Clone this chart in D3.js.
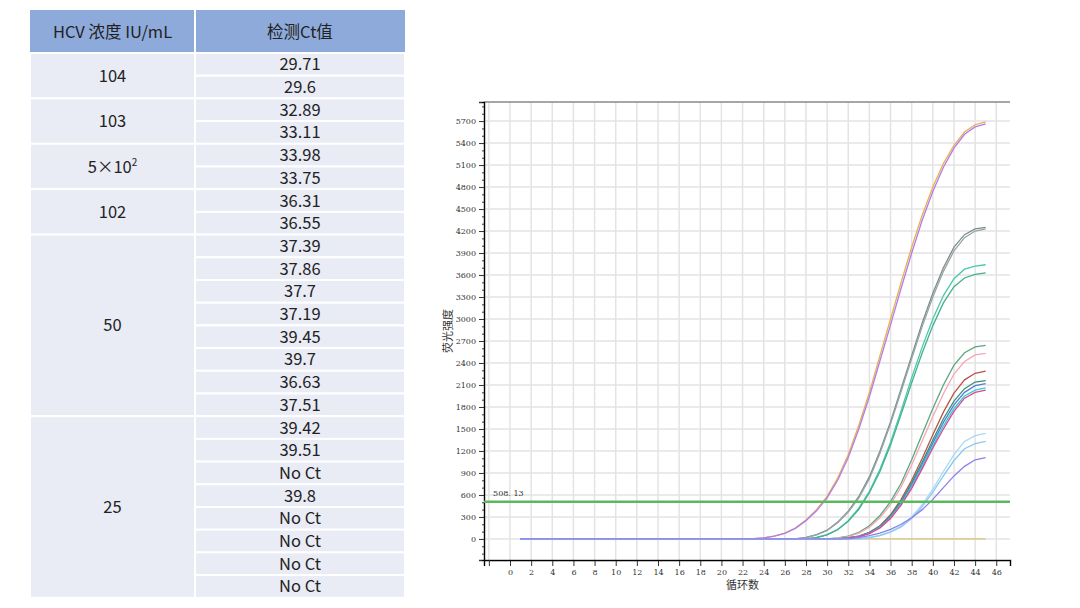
<!DOCTYPE html>
<html><head><meta charset="utf-8">
<script src="https://cdn.jsdelivr.net/npm/d3@7"></script>
<style>body{margin:0;background:#fff}svg{display:block}</style>
</head><body><svg id="c" width="1080" height="608"></svg>
<script>
// ---- table data ----
const tableHeader = ["HCV 浓度 IU/mL", "检测Ct值"];
const concGroups = [
  {label:"104", n:2}, {label:"103", n:2}, {label:"5×10", sup:"2", n:2},
  {label:"102", n:2}, {label:"50", n:8}, {label:"25", n:8}
];
const ctValues = ["29.71","29.6","32.89","33.11","33.98","33.75","36.31","36.55",
  "37.39","37.86","37.7","37.19","39.45","39.7","36.63","37.51",
  "39.42","39.51","No Ct","39.8","No Ct","No Ct","No Ct","No Ct"];

// ---- chart data: fluorescence from cycle 23 to 45 (earlier cycles at baseline 0) ----
const startCycle = 1;
const riseCycle = 23;
const curves = [
  {color:"#e8b04a", v:[5,15,40,80,150,260,400,580,830,1150,1550,2000,2500,3000,3500,3980,4420,4800,5120,5370,5550,5650,5690]},
  {color:"#b27cf0", v:[5,14,38,76,145,250,385,560,800,1110,1500,1940,2430,2920,3420,3900,4350,4740,5070,5330,5520,5620,5660]},
  {color:"#7f8c8d", v:[0,0,0,0,0,20,60,120,230,380,580,850,1200,1600,2050,2500,2950,3350,3700,3980,4150,4230,4250]},
  {color:"#95a5a6", v:[0,0,0,0,0,18,55,115,220,365,560,820,1170,1570,2010,2460,2900,3300,3650,3930,4110,4200,4230]},
  {color:"#48c9b0", v:[0,0,0,0,0,0,20,60,130,250,420,650,950,1320,1750,2200,2620,3000,3320,3550,3680,3720,3740]},
  {color:"#45b08c", v:[0,0,0,0,0,0,18,55,125,240,405,630,920,1280,1700,2130,2540,2910,3220,3440,3560,3610,3630]},
  {color:"#5da77f", v:[0,0,0,0,0,0,0,0,15,40,90,180,320,510,760,1080,1430,1780,2100,2370,2540,2620,2640]},
  {color:"#f4a6b5", v:[0,0,0,0,0,0,0,0,12,32,80,160,290,470,710,1010,1340,1670,1980,2250,2420,2510,2530]},
  {color:"#b5554a", v:[0,0,0,0,0,0,0,0,0,15,40,90,180,330,540,800,1100,1420,1730,1990,2170,2260,2290]},
  {color:"#3e8f6e", v:[0,0,0,0,0,0,0,0,0,15,38,86,172,315,515,765,1050,1350,1640,1880,2050,2140,2160]},
  {color:"#4f7fd6", v:[0,0,0,0,0,0,0,0,0,14,36,82,165,300,495,740,1020,1310,1590,1830,2000,2090,2120]},
  {color:"#2ed0d6", v:[0,0,0,0,0,0,0,0,0,13,34,78,158,290,480,715,990,1270,1540,1780,1950,2030,2060]},
  {color:"#e0458f", v:[0,0,0,0,0,0,0,0,0,12,32,74,150,278,462,690,960,1240,1500,1740,1920,2000,2030]},
  {color:"#a8d8f5", v:[0,0,0,0,0,0,0,0,0,0,0,20,50,100,180,300,470,680,920,1150,1330,1410,1440]},
  {color:"#8cc8ee", v:[0,0,0,0,0,0,0,0,0,0,0,18,45,92,165,280,440,640,860,1070,1230,1300,1330]},
  {color:"#8f7ef0", v:[0,0,0,0,0,0,0,0,0,0,20,45,80,130,200,290,400,540,700,860,990,1080,1110]}
];
const flatColor = "#d8c27a";
const threshold = 508.13;
const xTicks = d3.range(0, 47, 2);
const yTicks = d3.range(0, 5701, 300);

const svg = d3.select("#c");
const font = "'Noto Sans CJK SC','Noto Sans',sans-serif";

// ---- table ----
const tx0 = 30, tx1 = 195, tx2 = 405, hy0 = 10, hy1 = 53, rowH = 22.7;
const tg = svg.append("g");
tg.append("rect").attr("x",tx0).attr("y",hy0).attr("width",tx2-tx0).attr("height",hy1-hy0).attr("fill","#8eaadb");
tg.append("line").attr("x1",tx1).attr("x2",tx1).attr("y1",hy0).attr("y2",hy1).attr("stroke","#fff").attr("stroke-width",2);
tg.selectAll("text.h").data(tableHeader).join("text")
  .attr("x",(d,i)=> i?(tx1+tx2)/2:(tx0+tx1)/2).attr("y",(hy0+hy1)/2+6)
  .attr("text-anchor","middle").attr("font-family",font).attr("font-size",16.5).attr("fill","#222").text(d=>d);
let r = 0;
concGroups.forEach(g=>{
  const y = hy1 + r*rowH;
  tg.append("rect").attr("x",tx0).attr("y",y).attr("width",tx1-tx0).attr("height",g.n*rowH)
    .attr("fill","#e9ebf5").attr("stroke","#fff").attr("stroke-width",2);
  const t = tg.append("text").attr("x",(tx0+tx1)/2).attr("y",y+g.n*rowH/2+6).attr("text-anchor","middle")
    .attr("font-family",font).attr("font-size",16.5).attr("fill","#222").text(g.label);
  if (g.sup) t.append("tspan").attr("dy",-7).attr("font-size",10).text(g.sup);
  r += g.n;
});
ctValues.forEach((v,i)=>{
  const y = hy1 + i*rowH;
  tg.append("rect").attr("x",tx1).attr("y",y).attr("width",tx2-tx1).attr("height",rowH)
    .attr("fill","#e9ebf5").attr("stroke","#fff").attr("stroke-width",2);
  tg.append("text").attr("x",(tx1+tx2)/2).attr("y",y+rowH/2+6).attr("text-anchor","middle")
    .attr("font-family",font).attr("font-size",16.5).attr("fill","#222").text(v);
});

// ---- chart ----
const L=484, R=1010, T=102, B=560;
const x = d3.scaleLinear().domain([-2.46,47.3]).range([L,R]);
const y = d3.scaleLinear().domain([-287,5960]).range([B,T]);
const cg = svg.append("g");
cg.append("rect").attr("x",L).attr("y",T).attr("width",R-L).attr("height",B-T).attr("fill","#fff");
cg.selectAll("line.vg").data(d3.range(-2,47,2)).join("line")
  .attr("x1",d=>x(d)).attr("x2",d=>x(d)).attr("y1",T).attr("y2",B).attr("stroke","#e3e3e3").attr("stroke-width",1.5);
cg.selectAll("line.hg").data(d3.range(-300,5960,300)).join("line")
  .attr("x1",L).attr("x2",R).attr("y1",d=>y(d)).attr("y2",d=>y(d)).attr("stroke","#e3e3e3").attr("stroke-width",1.5);
cg.append("line").attr("x1",L).attr("x2",R).attr("y1",T).attr("y2",T).attr("stroke","#888").attr("stroke-width",1.5);

// axes
const ya = d3.axisLeft(y).tickValues(yTicks).tickSize(5).tickFormat(d3.format("d"));
const yg = cg.append("g").attr("transform",`translate(${L},0)`).call(ya);
cg.append("g").attr("transform",`translate(${L},0)`).call(d3.axisLeft(y).tickValues(d3.range(-200,5960,100)).tickSize(2).tickFormat(""));
const xa = d3.axisBottom(x).tickValues(xTicks).tickSize(6);
const xg = cg.append("g").attr("transform",`translate(0,${B})`).call(xa);
cg.append("g").attr("transform",`translate(0,${B})`).call(d3.axisBottom(x).tickValues([-2]).tickSize(6).tickFormat(""));
[yg,xg].forEach(g=>{g.selectAll("text").attr("font-family","'DejaVu Serif',serif").attr("font-size",8).attr("fill","#333");
  g.select(".domain").attr("stroke","#333").attr("stroke-width",1.5);});
cg.selectAll(".tick line").attr("stroke","#333");

cg.append("text").attr("transform",`translate(452,${(T+B)/2}) rotate(-90)`).attr("text-anchor","middle")
  .attr("font-family",font).attr("font-size",11).attr("fill","#333").text("荧光强度");
cg.append("text").attr("x",x(22)).attr("y",589).attr("text-anchor","middle")
  .attr("font-family",font).attr("font-size",11).attr("fill","#333").text("循环数");

// curves
const line = d3.line().x(d=>x(d[0])).y(d=>y(d[1]));
const toPts = c => {
  const pts = [];
  for (let k=startCycle;k<riseCycle;k++) pts.push([k,0]);
  c.v.forEach((v,i)=>pts.push([riseCycle+i,v]));
  return pts;
};
cg.append("path").attr("d",line(d3.range(startCycle,46).map(k=>[k,0]))).attr("fill","none").attr("stroke",flatColor).attr("stroke-width",1.2);
curves.slice().forEach(c=>{
  cg.append("path").attr("d",line(toPts(c))).attr("fill","none").attr("stroke",c.color).attr("stroke-width",1.3);
});
// threshold
cg.append("line").attr("x1",L).attr("x2",R).attr("y1",y(threshold)).attr("y2",y(threshold)).attr("stroke","#5cb85c").attr("stroke-width",2.5);
cg.append("text").attr("x",x(-1.6)).attr("y",y(threshold)-6).attr("font-family","'DejaVu Serif',serif").attr("font-size",8).attr("fill","#333").text("508. 13");
</script></body></html>
